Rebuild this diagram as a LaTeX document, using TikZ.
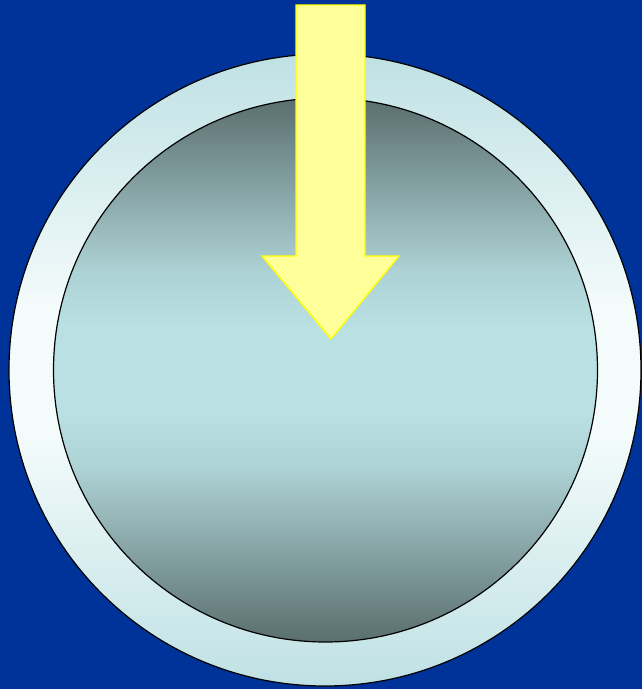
\documentclass[tikz,border=0pt]{standalone}
\usepackage{tikz}
\definecolor{bgblue}{HTML}{003399}
\definecolor{outeredge}{HTML}{BFE1E4}
\definecolor{outermid}{HTML}{F4FBFB}
\definecolor{inneredge}{HTML}{5A6E6E}
\definecolor{innermid}{HTML}{B9E0E3}
\definecolor{arrowfill}{HTML}{FFFF99}
\definecolor{arrowline}{HTML}{FFFF00}
\colorlet{innerA}{innermid!50!inneredge}
\colorlet{innerB}{innermid!88!inneredge}
\pgfdeclareverticalshading{discshade}{100bp}{%
  color(0bp)=(inneredge); color(25bp)=(inneredge); color(34bp)=(innerA);
  color(41bp)=(innerB); color(46bp)=(innermid); color(54bp)=(innermid);
  color(59bp)=(innerB); color(66bp)=(innerA); color(75bp)=(inneredge);
  color(100bp)=(inneredge)}
\pgfdeclareverticalshading{ringshade}{100bp}{%
  color(0bp)=(outeredge); color(25bp)=(outeredge); color(45bp)=(outermid);
  color(55bp)=(outermid); color(75bp)=(outeredge); color(100bp)=(outeredge)}
\tikzset{
  ring/.style={draw=black, line width=1.2pt, shading=ringshade},
  disc/.style={draw=black, line width=1.2pt, shading=discshade},
  bigarrow/.style={draw=arrowline, fill=arrowfill, line width=1.4pt, line join=miter}
}
\begin{document}
\begin{tikzpicture}[x=1pt,y=1pt]
\fill[bgblue] (0,0) rectangle (642,689);
\useasboundingbox (0,0) rectangle (642,689);
\coordinate (c) at (325,319);
\path[ring] (c) circle[radius=316];
\path[disc] (325.5,319) circle[radius=272];
\coordinate (a1) at (296,684);
\coordinate (a2) at (365,684);
\coordinate (a3) at (365,433);
\coordinate (a4) at (399,433);
\coordinate (tip) at (331,350);
\coordinate (a6) at (262,433);
\coordinate (a7) at (296,433);
\draw[bigarrow] (a1) -- (a2) -- (a3) -- (a4) -- (tip) -- (a6) -- (a7) -- cycle;
\end{tikzpicture}
\end{document}
